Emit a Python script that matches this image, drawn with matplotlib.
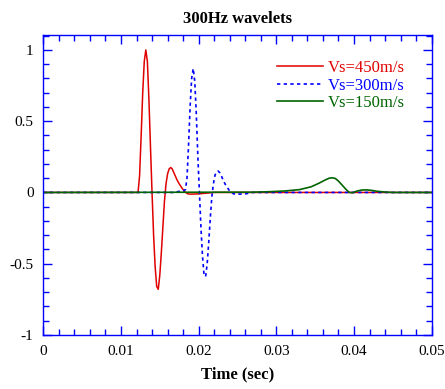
import numpy as np
import matplotlib
matplotlib.use("Agg")
import matplotlib.pyplot as plt


# ---------------------------------------
# Data
# ---------------------------------------

t_450 = [0.0, 0.0118, 0.0122, 0.0124, 0.0126, 0.0128, 0.0130, 0.0132, 0.0134,
         0.0136, 0.0138, 0.0140, 0.0142, 0.0144, 0.0146, 0.0148, 0.0150, 0.0152,
         0.0154, 0.0156, 0.0158, 0.0160, 0.0162, 0.0164, 0.0166, 0.0168, 0.0170,
         0.0172, 0.0175, 0.0178, 0.0182, 0.0186, 0.0190, 0.0200, 0.0210, 0.0220,
         0.0500]
v_450 = [0.0, 0.0, 0.0, 0.12, 0.40, 0.70, 0.92, 1.0, 0.92,
         0.65, 0.32, 0.0, -0.30, -0.52, -0.66, -0.68, -0.58, -0.42,
         -0.24, -0.06, 0.06, 0.13, 0.165, 0.175, 0.165, 0.14, 0.115,
         0.09, 0.06, 0.035, 0.005, -0.01, -0.012, -0.01, -0.005, 0.0,
         0.0]

t_300 = [0.0, 0.0170, 0.0176, 0.0180, 0.0183, 0.0185, 0.0187, 0.0189, 0.0191,
         0.0193, 0.0195, 0.0197, 0.0199, 0.0201, 0.0203, 0.0205, 0.0207, 0.0209,
         0.0211, 0.0213, 0.0215, 0.0217, 0.0219, 0.0221, 0.0223, 0.0225, 0.0227,
         0.0229, 0.0232, 0.0235, 0.0240, 0.0245, 0.0250, 0.0260, 0.0270, 0.0500]
v_300 = [0.0, 0.0, 0.01, 0.01, 0.02, 0.10, 0.33, 0.60, 0.80,
         0.87, 0.78, 0.55, 0.25, 0.0, -0.25, -0.45, -0.58, -0.59,
         -0.50, -0.35, -0.18, -0.03, 0.06, 0.12, 0.145, 0.15, 0.14,
         0.12, 0.08, 0.05, 0.01, -0.01, -0.012, -0.01, 0.0, 0.0]

t_150 = [0.0, 0.0270, 0.0290, 0.0310, 0.0330, 0.0345, 0.0355, 0.0362, 0.0368,
         0.0372, 0.0376, 0.0380, 0.0385, 0.0390, 0.0394, 0.0398, 0.0404, 0.0410,
         0.0416, 0.0422, 0.0430, 0.0440, 0.0450, 0.0500]
v_150 = [0.0, 0.002, 0.005, 0.01, 0.02, 0.04, 0.065, 0.085, 0.10,
         0.103, 0.098, 0.08, 0.05, 0.02, 0.0, -0.002, 0.01, 0.017,
         0.018, 0.015, 0.008, 0.003, 0.0, 0.0]

labels = ["Vs=450m/s", "Vs=300m/s", "Vs=150m/s"]


# ---------------------------------------
# Plot
# ---------------------------------------

plt.rcParams["font.family"] = ["Liberation Serif", "DejaVu Serif"]

fig = plt.figure(figsize=(4.45, 3.89), dpi=100)
ax = fig.add_axes([0.0973, 0.139, 0.8727, 0.771])

ax.plot(t_450, v_450, color="#e00000", lw=1.1, label=labels[0])
ax.plot(t_300, v_300, color="#0000ff", lw=1.2, ls=(0, (2, 2)), label=labels[1])
ax.plot(t_150, v_150, color="#006400", lw=1.2, label=labels[2])

ax.set_xlim(0, 0.05)
ax.set_ylim(-1, 1.105)

ax.set_xticks(np.arange(0, 0.0501, 0.01))
ax.set_xticklabels(["0", "0.01", "0.02", "0.03", "0.04", "0.05"])
ax.set_xticks(np.arange(0, 0.0501, 0.002), minor=True)
ax.set_yticks([-1, -0.5, 0, 0.5, 1])
ax.set_yticklabels(["-1", "-0.5", "0", "0.5", "1"])
ax.set_yticks(np.arange(-1, 1.101, 0.1), minor=True)

ax.tick_params(which="both", direction="in", top=True, right=True,
               color="#0000ff", labelsize=11, labelcolor="black")
ax.tick_params(which="major", length=6.5, width=1.0, pad=7)
ax.tick_params(which="minor", length=4, width=1.0)

for s in ax.spines.values():
    s.set_color("#0000ff")
    s.set_linewidth(1.0)

ax.set_title("300Hz wavelets", fontsize=12, fontweight="bold", pad=9)
ax.set_xlabel("Time (sec)", fontsize=12, fontweight="bold", labelpad=6)

leg = ax.legend(
    loc="upper left",
    bbox_to_anchor=(0.602, 0.917),
    frameon=False,
    fontsize=12,
    handlelength=2.75,
    handletextpad=0.3,
    labelspacing=0.1,
    borderpad=0,
    borderaxespad=0,
)
for txt, c in zip(leg.get_texts(), ["#e00000", "#0000ff", "#006400"]):
    txt.set_color(c)

fig.savefig("out.png", dpi=100)
